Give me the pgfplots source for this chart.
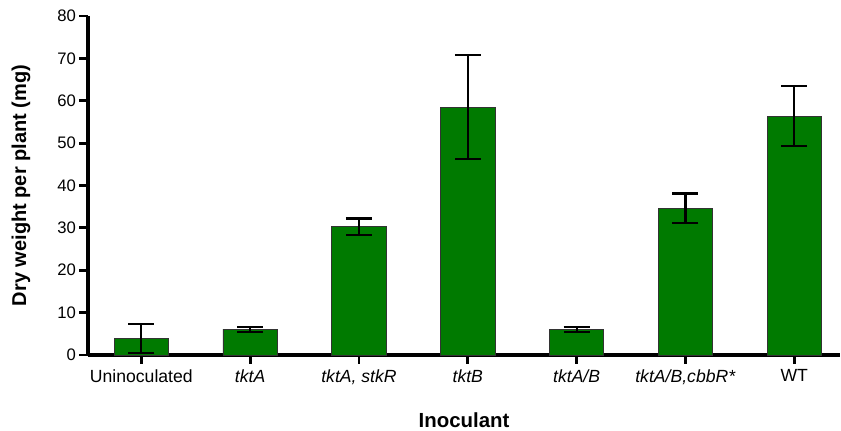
\documentclass[border=0pt]{standalone}
\usepackage{pgfplots}
\pgfplotsset{compat=1.18}
\usepackage{pgfplotstable}
\usepackage{fontspec}
\setmainfont{Liberation Sans}
\definecolor{bargreen}{RGB}{0,122,0}
\pgfplotstableread{
x y e
0 3.9 3.5
1 6.1 0.6
2 30.3 1.9
3 58.5 12.2
4 6.1 0.6
5 34.6 3.5
6 56.4 7.0
}\datatable
\begin{document}
\begin{tikzpicture}
\begin{axis}[
  name=ax,
  scale only axis,
  width=564pt, height=254.25pt,
  xmin=-0.49, xmax=6.42, ymin=0, ymax=80,
  axis x line*=bottom, axis y line*=left,
  axis line style={line width=2.4pt, -},
  ytick={0,10,...,80},
  xtick={0,...,6},
  xticklabels={Uninoculated,\textit{tktA},{\textit{tktA, stkR}},\textit{tktB},\textit{tktA/B},\textit{tktA/B,cbbR*},WT},
  tick align=outside,
  major tick length=6.5pt,
  tick style={line width=2.2pt, black},
  /pgf/number format/assume math mode=true,
  yticklabel style={font=\fontsize{12.5}{14}\selectfont, xshift=1pt},
  xticklabel style={font=\fontsize{13.2}{15}\selectfont, yshift=-1pt},
  ylabel={\textbf{Dry weight per plant (mg)}},
  xlabel={\textbf{Inoculant}},
  ylabel style={font=\fontsize{15}{17}\selectfont, at={(axis description cs:-0.089,0.5)}, anchor=center, rotate=0},
  xlabel style={font=\fontsize{15.3}{18}\selectfont, at={(axis description cs:0.5,-0.192)}, anchor=center},
  clip=false,
]
\addplot[ybar, bar width=0.5, fill=bargreen, draw=black!80, line width=0.6pt,
  error bars/.cd, y dir=both, y explicit,
  error bar style={line width=1.6pt, black},
  error mark options={rotate=90, line width=1.6pt, mark size=9.75pt, black}]
  table[x=x, y=y, y error=e] {\datatable};
\end{axis}
\pgfresetboundingbox
\useasboundingbox ([xshift=-66pt,yshift=-57pt]ax.south west) rectangle ([xshift=0.75pt,yshift=12pt]ax.north east);
\end{tikzpicture}
\end{document}
